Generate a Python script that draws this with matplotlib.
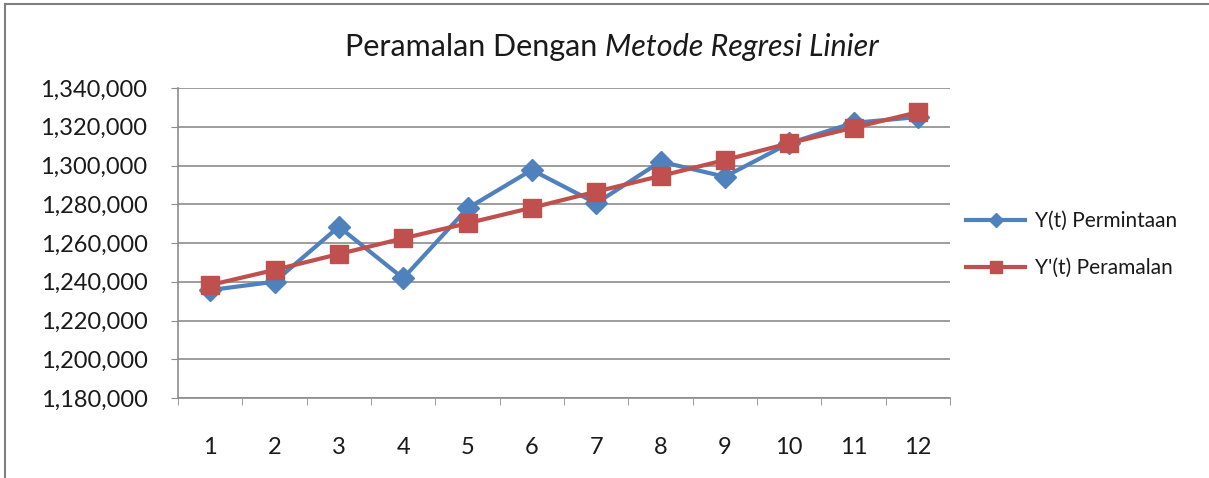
import numpy as np
import matplotlib.pyplot as plt
from matplotlib.ticker import FuncFormatter, FixedLocator
from matplotlib.lines import Line2D

# data
periode = [1, 2, 3, 4, 5, 6, 7, 8, 9, 10, 11, 12]
permintaan = [1235700, 1240000, 1268400, 1241800, 1277900, 1297700,
              1280500, 1302000, 1294200, 1311500, 1322000, 1325000]
peramalan = [1238300, 1246100, 1254300, 1262400, 1270200, 1278200,
             1286500, 1294600, 1302800, 1311500, 1319500, 1327500]
yticks = [1180000, 1200000, 1220000, 1240000, 1260000, 1280000,
          1300000, 1320000, 1340000]

plt.rcParams['font.family'] = ['Lato', 'DejaVu Sans']
plt.rcParams['text.color'] = '#1a1a1a'

fig = plt.figure(figsize=(12.09, 4.78), dpi=100)
ax = fig.add_axes([178/1209, 1-398/478, (950-178)/1209, (398-88)/478])

blue = '#4F81BD'
red = '#C0504D'
grid = '#8C8C8C'

ax.plot(periode, permintaan, color=blue, lw=3, marker='D', ms=11,
        label='Y(t) Permintaan', zorder=3)
ax.plot(periode, peramalan, color=red, lw=3, marker='s', ms=13,
        label="Y'(t) Peramalan", zorder=4)

ax.set_xlim(0.5, 12.5)
ax.set_ylim(yticks[0], yticks[-1])
ax.set_yticks(yticks)
ax.yaxis.set_major_formatter(FuncFormatter(lambda v, p: '{:,.0f}'.format(v)))
ax.set_xticks(periode)
ax.set_xticklabels([str(p) for p in periode])
ax.xaxis.set_minor_locator(FixedLocator(np.arange(0.5, 13, 1)))
ax.tick_params(axis='x', which='major', length=0, pad=28, labelsize=17,
               labelcolor='#1a1a1a')
ax.tick_params(axis='x', which='minor', length=5, color=grid, direction='out')
ax.tick_params(axis='y', length=5, color=grid, pad=17, labelsize=17,
               labelcolor='#1a1a1a')

ax.grid(axis='y', color=grid, lw=1.2)
ax.set_axisbelow(True)
for s in ['top', 'right']:
    ax.spines[s].set_visible(False)
for s in ['left', 'bottom']:
    ax.spines[s].set_color(grid)
    ax.spines[s].set_linewidth(1.2)

ax.legend(loc='center left', bbox_to_anchor=(0.997, 0.495), frameon=False,
          fontsize=15, handlelength=2.8, labelspacing=1.3, handletextpad=0.5,
          markerscale=0.65)

# title with italic part
fig.canvas.draw()
r = fig.canvas.get_renderer()
t1 = fig.text(0, 1-47/478, 'Peramalan Dengan ', fontsize=22, va='center')
t2 = fig.text(0, 1-47/478, 'Metode Regresi Linier', fontsize=22,
              style='italic', va='center')
w1 = t1.get_window_extent(r).width/1209
w2 = t2.get_window_extent(r).width/1209
x0 = 612/1209 - (w1+w2)/2
t1.set_x(x0)
t2.set_x(x0+w1)

# chart border (top and left edges)
fig.add_artist(Line2D([5/1209, 5/1209], [0, 1-4/478], transform=fig.transFigure,
                      color='#7F7F7F', lw=1.5))
fig.add_artist(Line2D([5/1209, 1], [1-4/478, 1-4/478], transform=fig.transFigure,
                      color='#7F7F7F', lw=1.5))

fig.savefig('out.png', dpi=100)
